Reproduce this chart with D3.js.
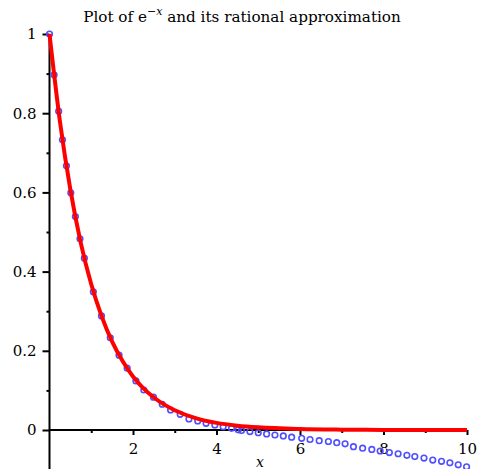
<!DOCTYPE html>
<html>
<head>
<meta charset="utf-8">
<script src="https://cdn.jsdelivr.net/npm/d3@7"></script>
<style>
  body { margin: 0; background: #fff; }
  svg { display: block; font-family: "DejaVu Serif", serif; }
</style>
</head>
<body>
<svg id="chart" width="479" height="469"></svg>
<script>
// e^-x
const curveX = [0, 0.25, 0.5, 0.75, 1, 1.25, 1.5, 1.75, 2, 2.25, 2.5, 2.75, 3, 3.5, 4, 4.5, 5, 6, 7, 8, 9, 10];
const curveY = [1, 0.779, 0.607, 0.472, 0.368, 0.287, 0.223, 0.174, 0.135, 0.105, 0.082, 0.064, 0.050, 0.030, 0.018, 0.011, 0.0067, 0.0025, 0.0009, 0.0003, 0.0001, 0.00005];

// rational approximation, read off the blue circles
const approxX = [0, 0.11, 0.22, 0.31, 0.405, 0.51, 0.62, 0.73, 0.835, 1.05, 1.245, 1.455, 1.665, 1.86,
  2.07, 2.26, 2.49, 2.7, 2.9, 3.13, 3.34, 3.55, 3.75, 3.96, 4.16, 4.36, 4.52,
  4.6, 4.8, 5.0, 5.2, 5.4, 5.6, 5.8, 6.04, 6.24, 6.46, 6.68, 6.88, 7.08,
  7.28, 7.5, 7.72, 7.92, 8.14, 8.35, 8.56, 8.75, 8.97, 9.18, 9.39, 9.59, 9.79, 9.99];
const approxY = [1, 0.897, 0.805, 0.733, 0.667, 0.599, 0.539, 0.483, 0.434, 0.349, 0.288, 0.233, 0.189, 0.156,
  0.124, 0.101, 0.083, 0.065, 0.0505, 0.0396, 0.0278, 0.0227, 0.0169, 0.0126, 0.0084, 0.0042, 0.0005,
  -0.001, -0.004, -0.007, -0.010, -0.0126, -0.015, -0.018, -0.021, -0.024, -0.027, -0.029, -0.032, -0.035,
  -0.042, -0.046, -0.049, -0.053, -0.057, -0.060, -0.064, -0.067, -0.071, -0.076, -0.079, -0.083, -0.088, -0.093];

const xMajor = [2, 4, 6, 8, 10];
const xMinor = [1, 3, 5, 7, 9];
const yMajor = [0, 0.2, 0.4, 0.6, 0.8, 1];
const yMinor = [0.1, 0.3, 0.5, 0.7, 0.9];

const svg = d3.select("#chart");

const x = d3.scaleLinear().domain([0, 10]).range([49.5, 467]);
const y = d3.scaleLinear().domain([-0.1, 1]).range([469.6, 34]);

// title
const title = svg.append("text")
  .attr("x", 242)
  .attr("y", 21.5)
  .attr("text-anchor", "middle")
  .style("font-size", "15.2px");
title.append("tspan").text("Plot of e");
title.append("tspan").attr("dy", -7).style("font-size", "11px").text("\u2212");
title.append("tspan").style("font-size", "11px").style("font-style", "italic").text("x");
title.append("tspan").attr("dy", 7).text(" and its rational approximation");

// axes
const axisG = svg.append("g");

axisG.append("g")
  .attr("transform", `translate(0,${y(0)})`)
  .call(d3.axisBottom(x).tickValues(xMajor).tickSize(5).tickPadding(8).tickFormat(d3.format("d")))
  .call(g => g.select(".domain").remove());

axisG.append("g")
  .attr("transform", `translate(0,${y(0)})`)
  .call(d3.axisBottom(x).tickValues(xMinor).tickSize(3).tickFormat(""))
  .call(g => g.select(".domain").remove());

axisG.append("g")
  .attr("transform", `translate(${x(0)},0)`)
  .call(d3.axisLeft(y).tickValues(yMajor).tickSize(7).tickPadding(6).tickFormat(d3.format("~g")))
  .call(g => g.select(".domain").remove());

axisG.append("g")
  .attr("transform", `translate(${x(0)},0)`)
  .call(d3.axisLeft(y).tickValues(yMinor).tickSize(3).tickFormat(""))
  .call(g => g.select(".domain").remove());

axisG.selectAll(".tick line").attr("stroke", "#000").attr("stroke-width", 2);
axisG.selectAll(".tick text")
  .attr("fill", "#000")
  .style("font-family", "DejaVu Serif, serif")
  .style("font-size", "15px");

axisG.append("line")
  .attr("x1", x(0)).attr("x2", x(10))
  .attr("y1", y(0)).attr("y2", y(0))
  .attr("stroke", "#000").attr("stroke-width", 2);

axisG.append("line")
  .attr("x1", x(0)).attr("x2", x(0))
  .attr("y1", y(1)).attr("y2", 469)
  .attr("stroke", "#000").attr("stroke-width", 2);

svg.append("text")
  .attr("x", 260)
  .attr("y", 467)
  .attr("text-anchor", "middle")
  .style("font-style", "italic")
  .style("font-size", "14px")
  .text("x");

// approximation points
svg.append("g")
  .selectAll("circle")
  .data(approxX.map((d, i) => [d, approxY[i]]))
  .join("circle")
  .attr("cx", d => x(d[0]))
  .attr("cy", d => y(d[1]))
  .attr("r", 2.8)
  .attr("fill", "none")
  .attr("stroke", "#4f4fff")
  .attr("stroke-width", 1.6);

// exact curve
const line = d3.line()
  .x(d => x(d[0]))
  .y(d => y(d[1]))
  .curve(d3.curveMonotoneX);

svg.append("path")
  .datum(curveX.map((d, i) => [d, curveY[i]]))
  .attr("d", line)
  .attr("fill", "none")
  .attr("stroke", "#ff0000")
  .attr("stroke-width", 4)
  .attr("stroke-linejoin", "round");
</script>
</body>
</html>
